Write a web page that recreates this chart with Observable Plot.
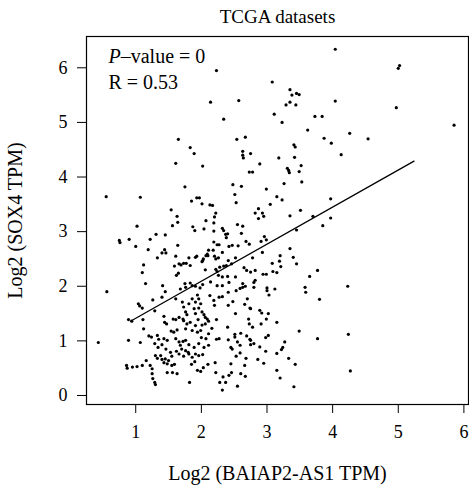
<!DOCTYPE html>
<html><head><meta charset="utf-8">
<script src="https://cdn.jsdelivr.net/npm/d3@7"></script>
<script src="https://cdn.jsdelivr.net/npm/@observablehq/plot@0.6"></script>
<style>body{margin:0;background:#fff}</style>
</head><body><div id="chart"></div>
<script>
// BAIAP2-AS1 (x) vs SOX4 (y), Log2 TPM
const xs = [
2.23,2.14,2.57,2.34,1.65,1.83,1.89,2.54,2.67,2.63,2.75,
4.04,5.02,5.00,3.08,3.35,3.38,3.45,3.49,3.35,3.29,3.44,4.04,4.97,3.11,3.23,3.73,3.84,3.62,3.87,4.26,3.98,4.54,3.41,3.43,4.13,5.85,
1.61,2.02,2.63,2.64,2.89,2.73,2.78,0.55,1.07,1.75,2.48,2.61,2.51,2.53,1.85,1.93,1.97,2.01,2.13,2.17,1.54,1.63,1.64,1.56,1.02,2.22,2.20,2.07,2.19,1.87,1.90,2.04,2.32,2.34,2.55,2.63,2.61,2.82,2.87,2.87,
0.75,0.76,0.90,1.00,1.22,1.31,1.45,1.19,1.64,1.33,1.40,1.44,1.46,1.61,1.12,1.10,1.59,1.66,1.69,1.73,1.77,1.83,1.91,1.93,1.65,1.62,2.01,2.03,2.07,2.09,2.18,2.20,2.22,2.19,2.24,2.32,2.22,2.24,2.38,2.46,2.52,2.68,2.73,2.78,2.69,2.75,2.82,
3.18,3.42,3.52,3.31,3.33,3.34,3.49,3.53,3.26,2.99,3.15,3.23,3.05,3.97,3.51,3.35,3.70,3.97,3.85,3.45,2.93,2.95,2.96,2.99,2.91,2.93,3.35,3.40,3.20,3.19,3.08,3.21,3.45,3.77,3.09,3.15,2.94,2.99,
3.65,4.23,2.80,3.00,3.00,3.12,3.03,3.58,3.59,3.80,2.75,2.89,2.92,3.02,2.99,3.15,2.91,2.78,3.49,4.24,3.77,3.02,2.98,2.75,2.80,2.75,2.89,3.27,3.24,3.22,2.98,3.15,3.33,2.86,2.95,3.43,3.15,4.27,3.20,3.41,
1.91,1.98,2.02,1.94,2.13,2.19,2.27,2.32,2.41,2.53,2.59,2.63,1.96,1.99,1.96,2.20,2.41,2.48,2.70,2.66,2.74,2.52,1.91,2.01,2.04,2.06,2.09,2.11,2.06,1.95,2.01,2.23,2.16,1.99,2.11,2.07,2.00,2.40,2.72,2.73,2.51,2.51,2.60,2.55,2.69,2.74,2.23,2.27,2.41,
2.04,2.11,2.02,2.45,2.47,2.59,2.59,2.53,2.68,2.21,2.10,2.03,1.99,2.45,2.66,2.46,2.42,2.33,2.22,2.60,2.67,2.28,2.37,2.32,2.55,
0.56,0.43,1.04,1.06,1.10,1.26,1.40,1.45,0.89,0.94,1.11,1.29,1.43,1.44,1.47,1.57,1.61,1.66,1.72,1.78,1.76,1.61,1.71,1.73,1.81,1.86,1.91,1.89,1.68,1.76,1.86,
0.89,1.07,1.12,1.20,1.24,1.33,1.35,1.29,1.34,1.40,1.43,1.48,1.54,1.58,1.63,1.61,1.66,1.72,1.76,1.68,1.81,1.80,1.89,1.91,1.96,1.73,1.78,1.83,1.76,1.86,1.91,1.94,
0.86,0.87,0.95,1.02,1.10,1.16,1.22,1.30,1.33,1.38,1.40,1.43,1.45,1.48,1.50,1.55,1.59,1.63,1.56,1.48,1.25,1.25,1.26,1.29,1.30,
1.46,1.53,1.55,1.62,1.66,1.70,1.76,1.73,1.81,1.86,1.90,1.85,1.94,1.96,1.82,
1.15,1.41,1.81,1.75,1.83,
2.37,2.40,2.38,2.19,2.27,2.42,2.47,2.56,2.11,2.10,2.02,2.06,2.26,2.28,2.41,2.34,2.65,2.52,2.14,2.26,2.32,2.40,2.42,2.24,2.63,2.67,2.82,2.80,2.32
];
const ys = [
5.95,5.37,5.40,5.06,4.69,4.54,4.43,4.69,4.73,4.47,4.43,
6.34,6.04,5.99,5.74,5.60,5.50,5.53,5.51,5.37,5.32,5.32,5.39,5.27,5.15,5.00,5.11,5.11,4.86,4.71,4.80,4.62,4.70,4.59,4.55,4.41,4.95,
4.25,4.20,4.40,4.35,4.24,4.09,4.09,3.64,3.63,3.82,3.86,3.83,3.68,3.53,3.56,3.62,3.62,3.51,3.49,3.48,3.40,3.28,3.17,3.11,3.10,3.34,3.27,3.20,3.16,3.09,3.02,3.05,3.06,3.02,3.13,3.10,2.97,3.34,3.42,3.24,
2.84,2.80,2.86,2.73,2.86,2.95,2.94,2.67,2.75,2.52,2.61,2.67,2.61,2.55,2.39,2.25,2.37,2.41,2.39,2.42,2.42,2.38,2.53,2.55,2.24,2.20,2.45,2.50,2.56,2.59,2.66,2.55,2.50,2.81,2.76,2.62,2.31,2.27,2.38,2.41,2.52,2.82,2.77,2.52,2.29,2.26,2.29,
4.35,4.36,4.21,4.16,4.12,4.08,4.10,3.91,3.88,3.78,3.64,3.58,3.50,3.60,3.39,3.29,3.28,3.25,3.11,3.03,3.34,3.28,2.91,2.85,2.82,2.62,2.69,2.53,2.56,2.46,2.42,2.36,2.41,2.29,2.27,2.25,2.22,2.22,
2.18,2.00,2.07,1.97,1.92,1.95,1.84,1.98,1.89,1.76,1.59,1.56,1.51,1.50,1.40,1.34,1.31,1.25,1.18,1.12,1.04,1.10,1.06,1.01,0.95,0.93,0.89,0.98,0.88,0.84,0.81,0.77,0.68,0.66,0.59,0.57,0.46,0.45,0.32,0.16,
2.00,1.97,2.03,1.84,1.83,1.74,1.80,1.81,1.89,1.92,1.96,1.98,1.77,1.68,1.60,1.65,1.65,1.72,1.77,1.67,1.60,1.50,1.50,1.53,1.48,1.43,1.40,1.36,1.31,1.39,1.29,1.39,1.23,1.19,1.13,1.04,1.06,1.25,1.40,1.31,1.12,1.07,1.14,0.98,1.09,1.03,1.03,1.04,1.02,
0.88,0.92,0.75,0.88,0.85,0.92,0.78,0.72,0.68,0.60,0.57,0.51,0.44,0.58,0.55,0.42,0.37,0.34,0.42,0.40,0.35,0.24,0.24,0.10,0.17,
1.90,0.97,1.68,1.64,1.60,1.75,1.80,1.90,1.39,1.36,1.39,1.55,1.45,1.34,1.31,1.40,1.39,1.43,1.40,1.48,1.53,1.77,1.71,1.62,1.68,1.77,1.71,1.59,1.95,1.98,2.01,
1.01,0.97,1.22,1.09,1.07,1.10,1.03,0.95,0.88,0.93,1.04,1.01,1.18,1.16,1.20,1.04,0.98,0.99,1.01,0.92,0.93,0.79,0.88,0.76,0.95,1.37,1.31,1.34,1.22,1.19,1.28,1.16,
0.55,0.50,0.52,0.53,0.55,0.64,0.55,0.73,0.68,0.73,0.66,0.60,0.67,0.58,0.64,0.55,0.57,0.40,0.42,0.42,0.49,0.40,0.31,0.24,0.20,
0.85,0.79,0.72,0.81,0.76,0.85,0.82,0.72,0.76,0.70,0.62,0.57,0.46,0.73,0.24,
2.05,2.01,2.52,2.05,2.06,
2.95,2.96,2.89,3.01,2.76,2.73,2.75,2.74,2.66,2.56,2.47,2.30,2.52,2.35,2.47,2.37,2.34,2.17,2.08,2.20,2.17,2.18,2.07,2.01,2.05,2.00,2.11,1.98,2.01
];
// fitted line end points
const lineX = [0.92, 5.24];
const lineY = [1.36, 4.29];
const xTicks = [1, 2, 3, 4, 5, 6];
const yTicks = [0, 1, 2, 3, 4, 5, 6];
const xDomain = [0.25, 6.07];
const yDomain = [-0.165, 6.573];
const title = "TCGA datasets";
const xLabel = "Log2 (BAIAP2-AS1 TPM)";
const yLabel = "Log2 (SOX4 TPM)";
const pText = "P–value = 0";
const rText = "R = 0.53";

const points = xs.map((x, i) => ({x, y: ys[i]}));
const fit = lineX.map((x, i) => ({x, y: lineY[i]}));
const yMid = (yDomain[0] + yDomain[1]) / 2;

const chart = Plot.plot({
  width: 469, height: 493,
  marginLeft: 86, marginRight: 1, marginTop: 36, marginBottom: 89,
  style: {fontFamily: "'Liberation Serif', serif", fontSize: "18px", background: "#fff", color: "#000"},
  x: {domain: xDomain},
  y: {domain: yDomain},
  marks: [
    Plot.frame({stroke: "#000", strokeWidth: 1.2}),
    Plot.axisX({ticks: xTicks, tickSize: 9, tickPadding: 12, label: null, fontSize: 18, tickFormat: d => String(d)}),
    Plot.axisY({ticks: yTicks, tickSize: 9, tickPadding: 10, label: null, fontSize: 18, tickFormat: d => String(d)}),
    Plot.dot(points, {x: "x", y: "y", r: 1.6, fill: "#000", stroke: null}),
    Plot.line(fit, {x: "x", y: "y", stroke: "#000", strokeWidth: 1.3}),
    Plot.text([title], {text: d => d, frameAnchor: "top", lineAnchor: "bottom", dy: -14, fontSize: 19}),
    Plot.text([xLabel], {text: d => d, frameAnchor: "bottom", lineAnchor: "bottom", dy: 75, fontSize: 20}),
    Plot.text([yLabel], {text: d => d, y: () => yMid, frameAnchor: "left", rotate: -90, textAnchor: "middle", lineAnchor: "middle", dx: -71, fontSize: 20}),
    Plot.text([pText], {text: d => d, frameAnchor: "top-left", textAnchor: "start", lineAnchor: "bottom", dx: 22, dy: 26, fontSize: 20}),
    Plot.text([rText], {text: d => d, frameAnchor: "top-left", textAnchor: "start", lineAnchor: "bottom", dx: 22, dy: 52, fontSize: 20})
  ]
});

const ns = "http://www.w3.org/2000/svg";
chart.querySelectorAll("text").forEach(t => {
  if (t.textContent === pText) {
    t.textContent = "";
    const a = document.createElementNS(ns, "tspan");
    a.setAttribute("font-style", "italic");
    a.textContent = pText.slice(0, 1);
    const b = document.createElementNS(ns, "tspan");
    b.textContent = pText.slice(1);
    t.appendChild(a); t.appendChild(b);
  }
});
document.getElementById("chart").appendChild(chart);
</script>
</body></html>
